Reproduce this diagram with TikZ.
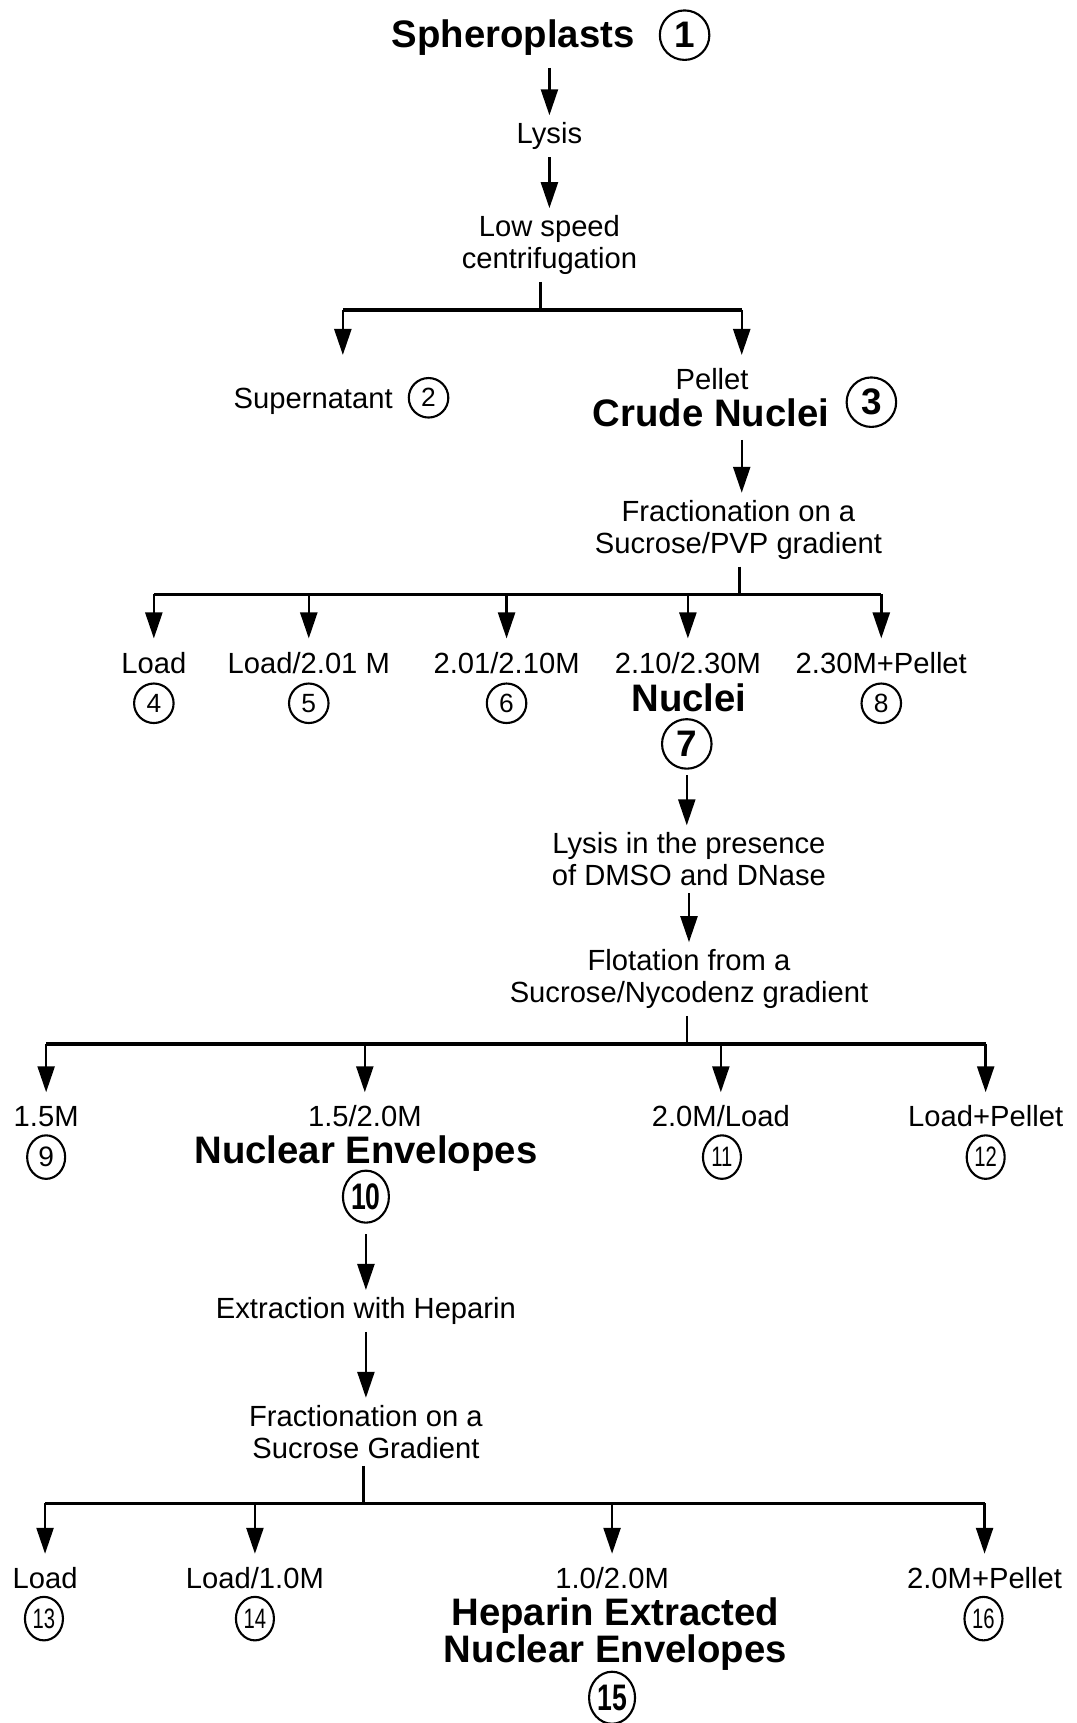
\documentclass[tikz,border=0pt]{standalone}
\usepackage{fontspec}
\setmainfont{Liberation Sans}
\usetikzlibrary{arrows.meta,shapes.geometric}
\newcommand\twodig[1]{\scalebox{0.72}[1]{#1}}
\begin{document}
\begin{tikzpicture}[x=0.02198cm, y=-0.02198cm,
    proc/.style={font=\fontsize{16.6}{18.1}\selectfont, align=center, inner xsep=2pt, inner ysep=4pt},
    frac/.style={font=\fontsize{16.6}{18.1}\selectfont, anchor=base, text height=12pt, text depth=3.5pt, inner xsep=1pt, inner ysep=7.5pt},
    bold/.style={font=\fontsize{21.8}{20.6}\selectfont\bfseries, anchor=base, inner sep=1pt},
    num/.style={circle, draw, line width=1.2pt, minimum size=0.79cm, inner sep=0pt, font=\fontsize{15}{15}\selectfont},
    numb/.style={ellipse, draw, line width=1.2pt, minimum width=0.76cm, minimum height=0.87cm, inner sep=0pt, font=\fontsize{16}{16}\selectfont},
    bignum/.style={num, minimum size=0.99cm, font=\fontsize{21}{21}\selectfont\bfseries},
    bigell/.style={numb, minimum width=0.92cm, minimum height=1.04cm, font=\fontsize{21}{21}\selectfont\bfseries},
    arr/.style={-{Triangle[length=5.2mm,width=3.4mm]}, line width=1.4pt},
    bar/.style={line width=1.9pt}]
\useasboundingbox (0,0) rectangle (980,1568);

\node[bold] (sph) at (467,43) {Spheroplasts};
\node[bignum] (c1) at (623,32) {1};
\node[proc] (lys) at (500,124) {Lysis};
\node[proc] (cen) at (500,223) {Low speed\\centrifugation};
\coordinate (s1) at (492,282);
\coordinate (a2) at (312,323);
\coordinate (a3) at (675,323);
\node[frac] (sup) at (285,371.5) {Supernatant};
\node[num] (c2) at (390,362) {2};
\node[frac] (pel) at (648,354.5) {Pellet};
\node[bold] (crude) at (647,388.5) {Crude Nuclei};
\node[bignum] (c3) at (793,366) {3};
\node[proc] (fr1) at (672,482) {Fractionation on a\\Sucrose/PVP gradient};
\coordinate (s2) at (673,541);
\node[frac] (f4) at (140,612.5) {Load};
\node[frac] (f5) at (281,612.5) {Load/2.01 M};
\node[frac] (f6) at (461,612.5) {2.01/2.10M};
\node[frac] (f7) at (626,612.5) {2.10/2.30M};
\node[frac] (f8) at (802,612.5) {2.30M+Pellet};
\node[num] (c4) at (140,640) {4};
\node[num] (c5) at (281,640) {5};
\node[num] (c6) at (461,640) {6};
\node[num] (c8) at (802,640) {8};
\node[bold] (nuc) at (627,647.5) {Nuclei};
\node[bignum] (c7) at (625,677) {7};
\node[proc] (lds) at (627,782) {Lysis in the presence\\of DMSO and DNase};
\node[proc] (flo) at (627,891) {Flotation from a\\Sucrose/Nycodenz gradient};
\coordinate (s3) at (625,950);
\node[frac] (g9) at (42,1025.5) {1.5M};
\node[frac] (g10) at (332,1025.5) {1.5/2.0M};
\node[frac] (g11) at (656,1025.5) {2.0M/Load};
\node[frac] (g12) at (897,1025.5) {Load+Pellet};
\node[numb] (c9) at (42,1053) {9};
\node[numb] (c11) at (657,1053) {\twodig{11}};
\node[numb] (c12) at (897,1053) {\twodig{12}};
\node[bold] (env) at (333,1058.5) {Nuclear Envelopes};
\node[bigell] (c10) at (333,1089) {\twodig{10}};
\node[proc] (ext) at (333,1193) {Extraction with Heparin};
\node[proc] (fr2) at (333,1303) {Fractionation on a\\Sucrose Gradient};
\coordinate (s4) at (331,1368);
\node[frac] (h13) at (41,1445.5) {Load};
\node[frac] (h14) at (232,1445.5) {Load/1.0M};
\node[frac] (h15) at (557,1445.5) {1.0/2.0M};
\node[frac] (h16) at (896,1445.5) {2.0M+Pellet};
\node[numb] (c13) at (40,1473) {\twodig{13}};
\node[numb] (c14) at (232,1473) {\twodig{14}};
\node[numb] (c16) at (895,1473) {\twodig{16}};
\node[bold] (hep1) at (560,1479.5) {Heparin Extracted};
\node[bold] (hep2) at (560,1512.5) {Nuclear Envelopes};
\node[bigell] (c15) at (557,1545) {\twodig{15}};

% first spin
\draw[arr, shorten <=6pt] (sph.south -| lys) -- (lys);
\draw[arr] (lys) -- (cen);
\draw[line width=1.4pt] (cen.south -| s1) -- (s1);
\draw[bar] (a2 |- s1) -- (a3 |- s1);
\draw[arr] (a2 |- s1) -- (a2);
\draw[arr] (a3 |- s1) -- (a3);

% Sucrose/PVP
\draw[arr, shorten <=6pt] (crude.south -| a3) -- (fr1.north -| a3);
\draw[line width=1.4pt] (fr1.south -| s2) -- (s2);
\draw[bar] (f4 |- s2) -- (f8 |- s2);
\foreach \n in {f4,f5,f6,f7,f8}
    \draw[arr] (\n |- s2) -- (\n.north);

% Sucrose/Nycodenz
\draw[arr, shorten <=3pt] (c7.south) -- (c7.south |- lds.north);
\draw[arr] (lds) -- (flo);
\draw[line width=1.4pt] (flo.south -| s3) -- (s3);
\draw[bar] (g9 |- s3) -- (g12 |- s3);
\foreach \n in {g9,g10,g11,g12}
    \draw[arr] (\n |- s3) -- (\n.north);

% heparin
\draw[arr, shorten <=6pt] (c10) -- (ext);
\draw[arr] (ext) -- (fr2);
\draw[line width=1.4pt] (fr2.south -| s4) -- (s4);
\draw[bar] (h13 |- s4) -- (h16 |- s4);
\foreach \n in {h13,h14,h15,h16}
    \draw[arr] (\n |- s4) -- (\n.north);
\end{tikzpicture}
\end{document}
